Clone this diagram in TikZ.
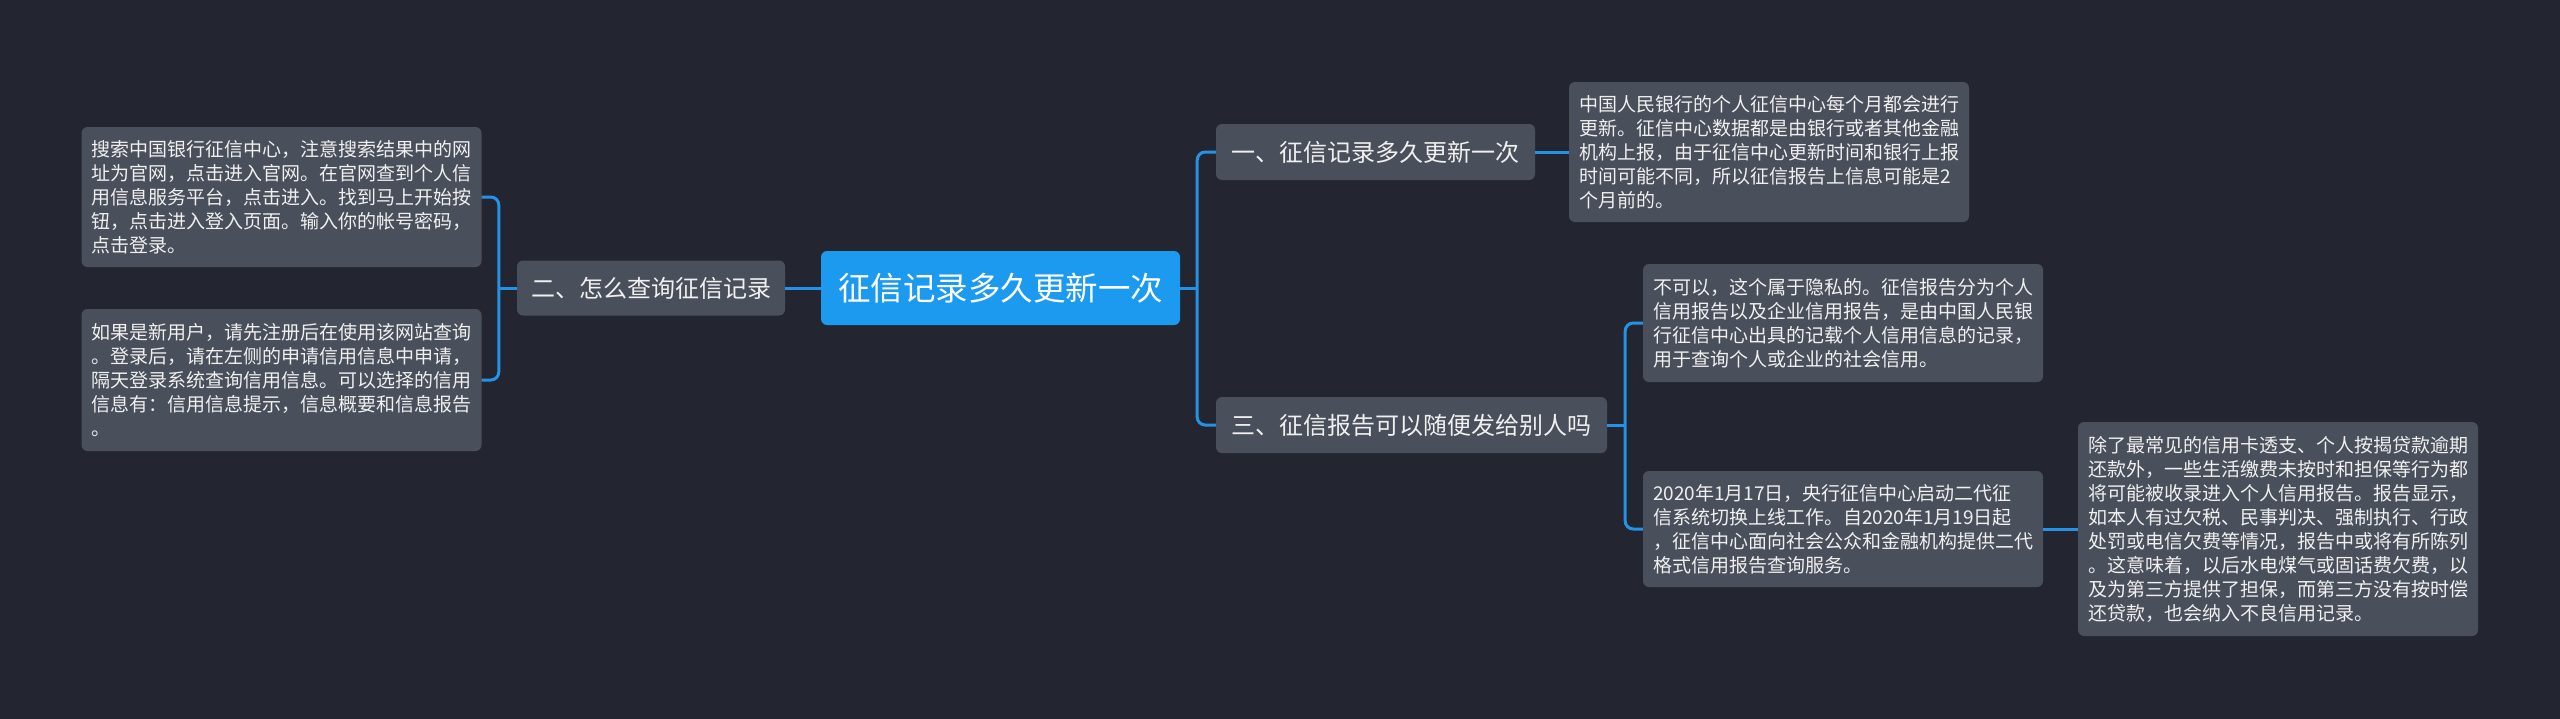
\documentclass[tikz,border=0pt]{standalone}
\usepackage{fontspec}
\setmainfont{Noto Sans CJK SC}
\usetikzlibrary{calc}
\definecolor{bgc}{RGB}{35,38,48}
\definecolor{boxc}{RGB}{74,79,92}
\definecolor{mainc}{RGB}{27,154,240}
\definecolor{linec}{RGB}{36,146,230}
\definecolor{txtc}{RGB}{240,240,240}
\tikzset{
  base/.style={rounded corners=6pt, inner sep=0pt, align=center, text=txtc},
  rootnode/.style={base, fill=mainc, text=white, font=\fontsize{32.5pt}{38pt}\selectfont},
  topic/.style={base, fill=boxc, font=\fontsize{24pt}{28pt}\selectfont},
  leaf/.style={base, fill=boxc, align=left, inner xsep=10pt, text width=380pt, minimum width=400pt, font=\fontsize{19pt}{24pt}\selectfont},
  conn/.style={draw=linec, line width=3pt},
  elbowline/.style={conn, rounded corners=8pt}
}
\begin{document}
\begin{tikzpicture}[x=1pt, y=-1pt]
\useasboundingbox (0,0) rectangle (2560,718);
\fill[bgc] (-10,-10) rectangle (2570,728);

\node[rootnode, minimum width=359pt, minimum height=74pt] (c) at (1000.5,288) {征信记录多久更新一次};

\node[topic, minimum width=268pt, minimum height=55pt] (n2) at (651,288) {二、怎么查询征信记录};
\node[topic, minimum width=319pt, minimum height=56pt] (n1) at (1375.5,152) {一、征信记录多久更新一次};
\node[topic, minimum width=391pt, minimum height=56pt] (n3) at (1411.5,425) {三、征信报告可以随便发给别人吗};

\node[leaf, minimum height=140pt] (l1) at (281.5,197) {搜索中国银行征信中心，注意搜索结果中的网\\址为官网，点击进入官网。在官网查到个人信\\用信息服务平台，点击进入。找到马上开始按\\钮，点击进入登入页面。输入你的帐号密码，\\点击登录。};
\node[leaf, minimum height=142pt] (l2) at (281.5,380) {如果是新用户，请先注册后在使用该网站查询\\。登录后，请在左侧的申请信用信息中申请，\\隔天登录系统查询信用信息。可以选择的信用\\信息有：信用信息提示，信息概要和信息报告\\。};

\node[leaf, minimum height=140pt] (r1) at (1769,152) {中国人民银行的个人征信中心每个月都会进行\\更新。征信中心数据都是由银行或者其他金融\\机构上报，由于征信中心更新时间和银行上报\\时间可能不同，所以征信报告上信息可能是2\\个月前的。};
\node[leaf, minimum height=118pt] (r2) at (1843,323) {不可以，这个属于隐私的。征信报告分为个人\\信用报告以及企业信用报告，是由中国人民银\\行征信中心出具的记载个人信用信息的记录，\\用于查询个人或企业的社会信用。};
\node[leaf, minimum height=116pt] (r3) at (1843,529) {2020年1月17日，央行征信中心启动二代征\\信系统切换上线工作。自2020年1月19日起\\，征信中心面向社会公众和金融机构提供二代\\格式信用报告查询服务。};
\node[leaf, minimum height=214pt] (r4) at (2278,529) {除了最常见的信用卡透支、个人按揭贷款逾期\\还款外，一些生活缴费未按时和担保等行为都\\将可能被收录进入个人信用报告。报告显示，\\如本人有过欠税、民事判决、强制执行、行政\\处罚或电信欠费等情况，报告中或将有所陈列\\。这意味着，以后水电煤气或固话费欠费，以\\及为第三方提供了担保，而第三方没有按时偿\\还贷款，也会纳入不良信用记录。};

\coordinate (jr) at ($(c.east)+(17,0)$);
\coordinate (jl) at ($(n2.west)+(-18,0)$);
\coordinate (j3) at ($(n3.east)+(18,0)$);

\draw[conn] (c.east) -- (jr);
\draw[elbowline] (n1.west) -| (jr) |- (n3.west);
\draw[conn] (c.west) -- (n2.east);
\draw[conn] (n2.west) -- (jl);
\draw[elbowline] (l1.east) -| (jl) |- (l2.east);
\draw[conn] (n1.east) -- (r1.west);
\draw[conn] (n3.east) -- (j3);
\draw[elbowline] (r2.west) -| (j3) |- (r3.west);
\draw[conn] (r3.east) -- (r4.west);
\end{tikzpicture}
\end{document}
